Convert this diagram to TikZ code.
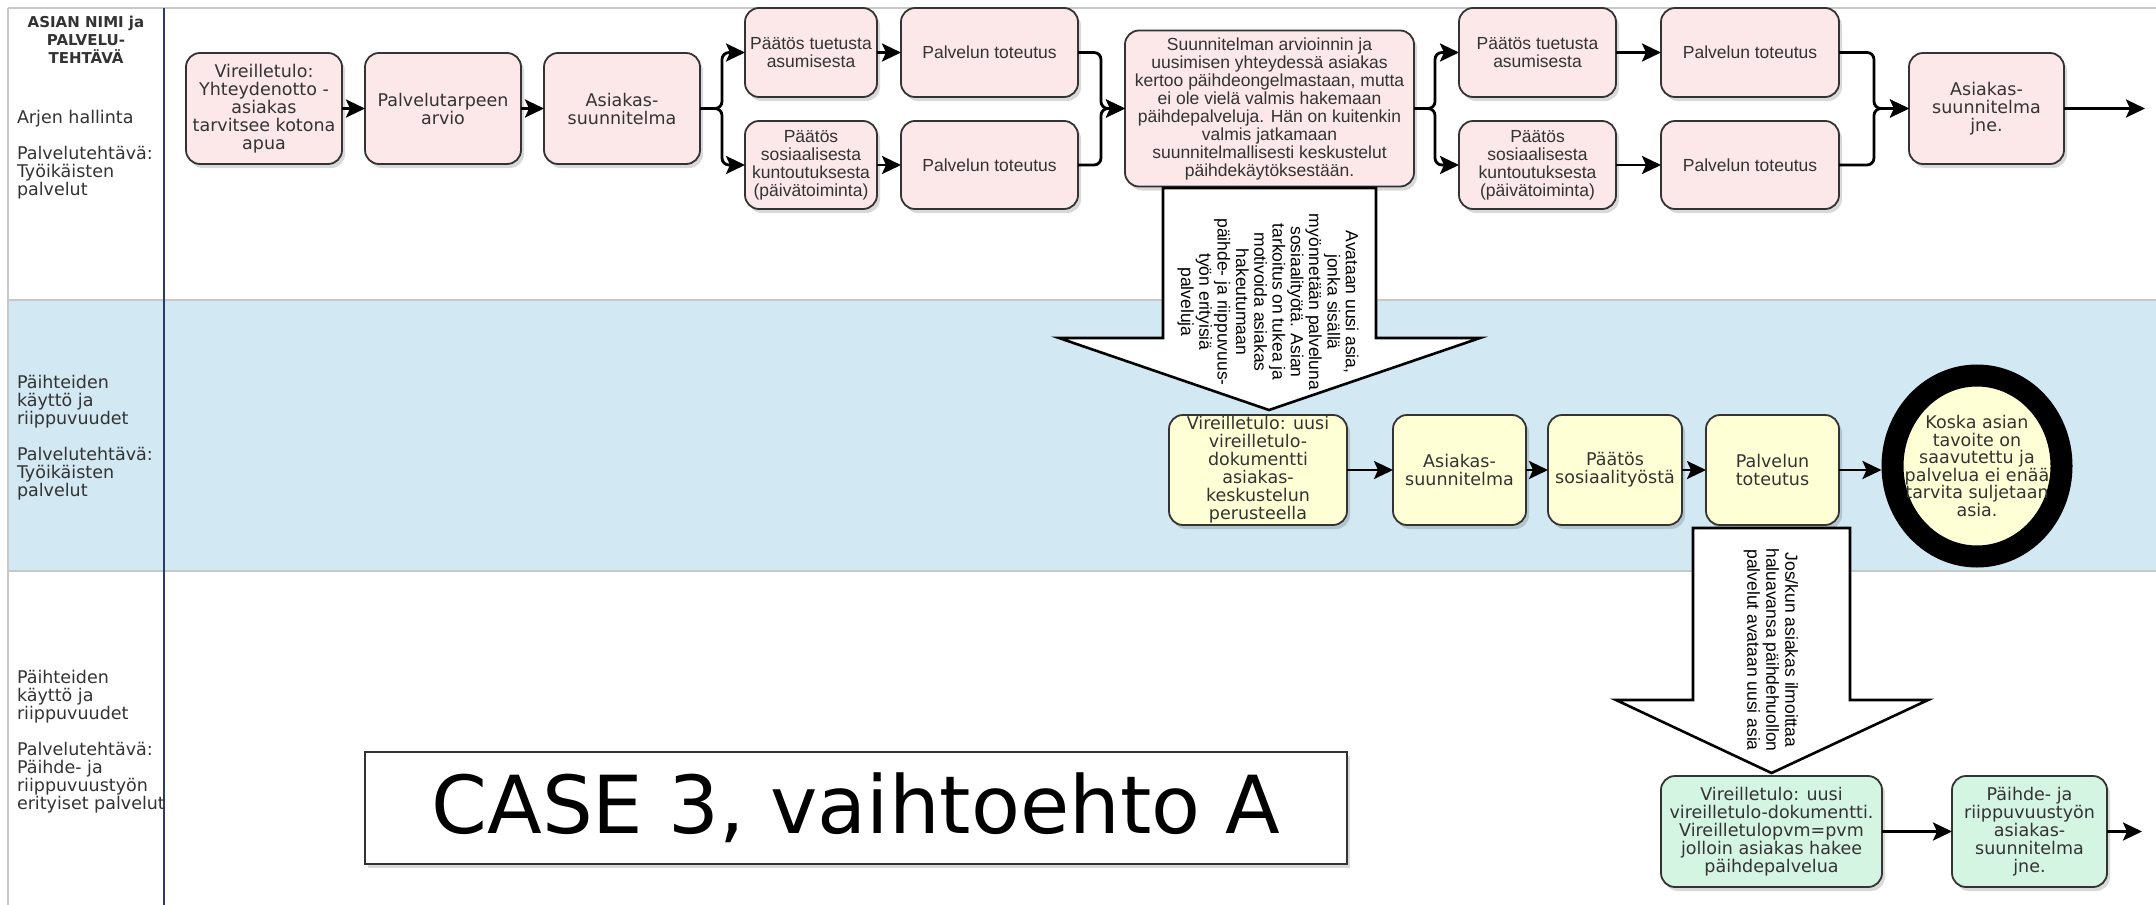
\documentclass[tikz,border=0pt]{standalone}
\usepackage{fontspec}
\setmainfont{DejaVu Sans}
\newfontfamily\arialf{Liberation Sans}
\usetikzlibrary{arrows.meta,shapes.geometric,shadows}
\definecolor{pinkfill}{HTML}{FCE8E8}
\definecolor{yellowfill}{HTML}{FFFFD5}
\definecolor{greenfill}{HTML}{D5F5E3}
\definecolor{laneblue}{HTML}{D2E8F2}
\definecolor{laneline}{HTML}{C8C8C8}
\definecolor{navy}{HTML}{2A3C6E}
\definecolor{bord}{HTML}{333333}
\definecolor{txt}{HTML}{333333}
\tikzset{
  base/.style={inner sep=0pt, outer sep=0pt, text=txt, align=center},
  vfont/.style={font=\fontsize{17.5}{18}\selectfont},
  afont/.style={font=\arialf\fontsize{17.5}{18}\selectfont},
  box/.style={base, draw=bord, line width=1.8pt, rounded corners=14pt,
    drop shadow={shadow xshift=3pt, shadow yshift=-4pt, opacity=.15, fill=black}},
  pbox/.style={box, fill=pinkfill},
  ybox/.style={box, fill=yellowfill},
  gbox/.style={box, fill=greenfill},
  conn/.style={line width=2.8pt, draw=black, -{Stealth[length=19pt,width=18pt,inset=4pt]}, rounded corners=7pt},
  bigarrow/.style={draw=black, fill=white, line width=2.6pt, line join=miter},
  lanelbl/.style={base, align=left, anchor=north west, vfont},
  lanesep/.style={draw=laneline, line width=2.6pt},
}
\begin{document}
\begin{tikzpicture}[x=1pt,y=-1pt]
\useasboundingbox (0,0) rectangle (2156,905);
\fill[white] (0,0) rectangle (2156,905);
% lanes
\fill[laneblue] (8,300) rectangle (2156,571);
\draw[lanesep] (8,8) -- (2156,8);
\draw[lanesep] (8,300) -- (2156,300);
\draw[lanesep] (8,571) -- (2156,571);
\draw[lanesep] (8,8) -- (8,905);
\draw[navy, line width=1.6pt] (164,8) -- (164,905);

% lane labels
\node[base, anchor=north, font=\bfseries\fontsize{15}{18}\selectfont] (hdr) at (86,16) {ASIAN NIMI ja\\PALVELU-\\TEHTÄVÄ};
\node[lanelbl] (l1) at (17,110) {Arjen hallinta\\[18pt]Palvelutehtävä:\\Työikäisten\\palvelut};
\node[lanelbl] (l2) at (17,375) {Päihteiden\\käyttö ja\\riippuvuudet\\[18pt]Palvelutehtävä:\\Työikäisten\\palvelut};
\node[lanelbl] (l3) at (17,670) {Päihteiden\\käyttö ja\\riippuvuudet\\[18pt]Palvelutehtävä:\\Päihde- ja\\riippuvuustyön\\erityiset palvelut};

% lane 1 boxes
\node[pbox, vfont, minimum width=156pt, minimum height=111pt] (b1) at (264,108.5) {Vireilletulo:\\Yhteydenotto -\\asiakas\\tarvitsee kotona\\apua};
\node[pbox, vfont, minimum width=156pt, minimum height=111pt] (b2) at (443,108.5) {Palvelutarpeen\\arvio};
\node[pbox, vfont, minimum width=156pt, minimum height=111pt] (b3) at (622,108.5) {Asiakas-\\suunnitelma};
\node[pbox, afont, minimum width=132pt, minimum height=89pt] (pt1) at (811,52.5) {Päätös tuetusta\\asumisesta};
\node[pbox, afont, minimum width=132pt, minimum height=88pt] (ps1) at (811,165) {Päätös\\sosiaalisesta\\kuntoutuksesta\\(päivätoiminta)};
\node[pbox, afont, minimum width=177pt, minimum height=89pt] (pl1) at (989.5,52.5) {Palvelun toteutus};
\node[pbox, afont, minimum width=177pt, minimum height=88pt] (pl2) at (989.5,165) {Palvelun toteutus};
\node[pbox, afont, minimum width=289pt, minimum height=156pt] (big) at (1269.5,108.5) {Suunnitelman arvioinnin ja\\uusimisen yhteydessä asiakas\\kertoo päihdeongelmastaan, mutta\\ei ole vielä valmis hakemaan\\päihdepalveluja. Hän on kuitenkin\\valmis jatkamaan\\suunnitelmallisesti keskustelut\\päihdekäytöksestään.};
\node[pbox, afont, minimum width=157pt, minimum height=89pt] (pt2) at (1537.5,52.5) {Päätös tuetusta\\asumisesta};
\node[pbox, afont, minimum width=157pt, minimum height=88pt] (ps2) at (1537.5,165) {Päätös\\sosiaalisesta\\kuntoutuksesta\\(päivätoiminta)};
\node[pbox, afont, minimum width=178pt, minimum height=89pt] (pl3) at (1750,52.5) {Palvelun toteutus};
\node[pbox, afont, minimum width=178pt, minimum height=88pt] (pl4) at (1750,165) {Palvelun toteutus};
\node[pbox, vfont, minimum width=155pt, minimum height=111pt] (jne) at (1986.5,108.5) {Asiakas-\\suunnitelma\\jne.};
\coordinate (jout) at (2145,108.5);

% lane 1 connectors
\draw[conn] (b1) -- (b2);
\draw[conn] (b2) -- (b3);
\draw[conn] (b3.east) -- ++(22,0) |- (pt1.west);
\draw[conn] (b3.east) -- ++(22,0) |- (ps1.west);
\draw[conn] (pt1) -- (pl1);
\draw[conn] (ps1) -- (pl2);
\draw[conn] (pl1.east) -- ++(23,0) |- (big.west);
\draw[conn] (pl2.east) -- ++(23,0) |- (big.west);
\draw[conn] (big.east) -- ++(21,0) |- (pt2.west);
\draw[conn] (big.east) -- ++(21,0) |- (ps2.west);
\draw[conn] (pt2) -- (pl3);
\draw[conn] (ps2) -- (pl4);
\draw[conn] (pl3.east) -- ++(35,0) |- (jne.west);
\draw[conn] (pl4.east) -- ++(35,0) |- (jne.west);
\draw[conn] (jne.east) -- (jout);

% lane 2
\node[ybox, vfont, minimum width=178pt, minimum height=110pt] (y1) at (1258,470) {Vireilletulo: uusi\\vireilletulo-\\dokumentti\\asiakas-\\keskustelun\\perusteella};
\node[ybox, vfont, minimum width=133pt, minimum height=110pt] (y2) at (1459.5,470) {Asiakas-\\suunnitelma};
\node[ybox, vfont, minimum width=134pt, minimum height=110pt] (y3) at (1615,470) {Päätös\\sosiaalityöstä};
\node[ybox, vfont, minimum width=133pt, minimum height=110pt] (y4) at (1772.5,470) {Palvelun\\toteutus};
\node[ellipse, draw=black, fill=yellowfill, line width=22pt, minimum width=169pt, minimum height=181pt, inner sep=0pt, outer sep=11pt] (circ) at (1977,466) {};
\node[base, font=\fontsize{17.5}{17.5}\selectfont] (circt) at (circ.center) {Koska asian\\tavoite on\\saavutettu ja\\palvelua ei enää\\tarvita suljetaan\\asia.};
\draw[conn] (y1) -- (y2);
\draw[conn] (y2) -- (y3);
\draw[conn] (y3) -- (y4);
\draw[conn] (y4.east) -- (y4.east -| circ.west);

% lane 3
\node[gbox, vfont, minimum width=221pt, minimum height=111pt] (g1) at (1771.5,831.5) {Vireilletulo: uusi\\vireilletulo-dokumentti.\\Vireilletulopvm=pvm\\jolloin asiakas hakee\\päihdepalvelua};
\node[gbox, vfont, minimum width=155pt, minimum height=111pt] (g2) at (2029.5,831.5) {Päihde- ja\\riippuvuustyön\\asiakas-\\suunnitelma\\jne.};
\coordinate (gout) at (2142,831.5);
\draw[conn] (g1) -- (g2);
\draw[conn] (g2.east) -- (gout);

\node[base, draw=bord, fill=white, line width=1.8pt, text=black, minimum width=982pt, minimum height=112pt, font=\fontsize{80}{96}\selectfont,
  drop shadow={shadow xshift=3pt, shadow yshift=-4pt, opacity=.15, fill=black}] (case) at (856,808) {CASE 3, vaihtoehto A};

% big arrows
\draw[bigarrow] (1163,188) -- (1376,188) -- (1376,338) -- (1480,338) -- (1269,410) -- (1059,338) -- (1163,338) -- cycle;
\node[base, text=black, rotate=-90, font=\arialf\fontsize{17.5}{18.3}\selectfont] (a1t) at (1268,302) {Avataan uusi asia,\\jonka sisällä\\myönnetään palveluna\\sosiaalityötä.  Asian\\tarkoitus on tukea ja\\motivoida asiakas\\hakeutumaan\\päihde- ja riippuvuus-\\työn erityisiä\\palveluja};
\draw[bigarrow] (1693,528) -- (1850,528) -- (1850,700) -- (1928,700) -- (1771.5,773) -- (1616,700) -- (1693,700) -- cycle;
\node[base, text=black, rotate=-90, font=\arialf\fontsize{17.5}{19}\selectfont] (a2t) at (1771,650) {Jos/kun asiakas ilmoittaa\\haluavansa päihdehuollon\\palvelut avataan uusi asia};
\end{tikzpicture}
\end{document}
